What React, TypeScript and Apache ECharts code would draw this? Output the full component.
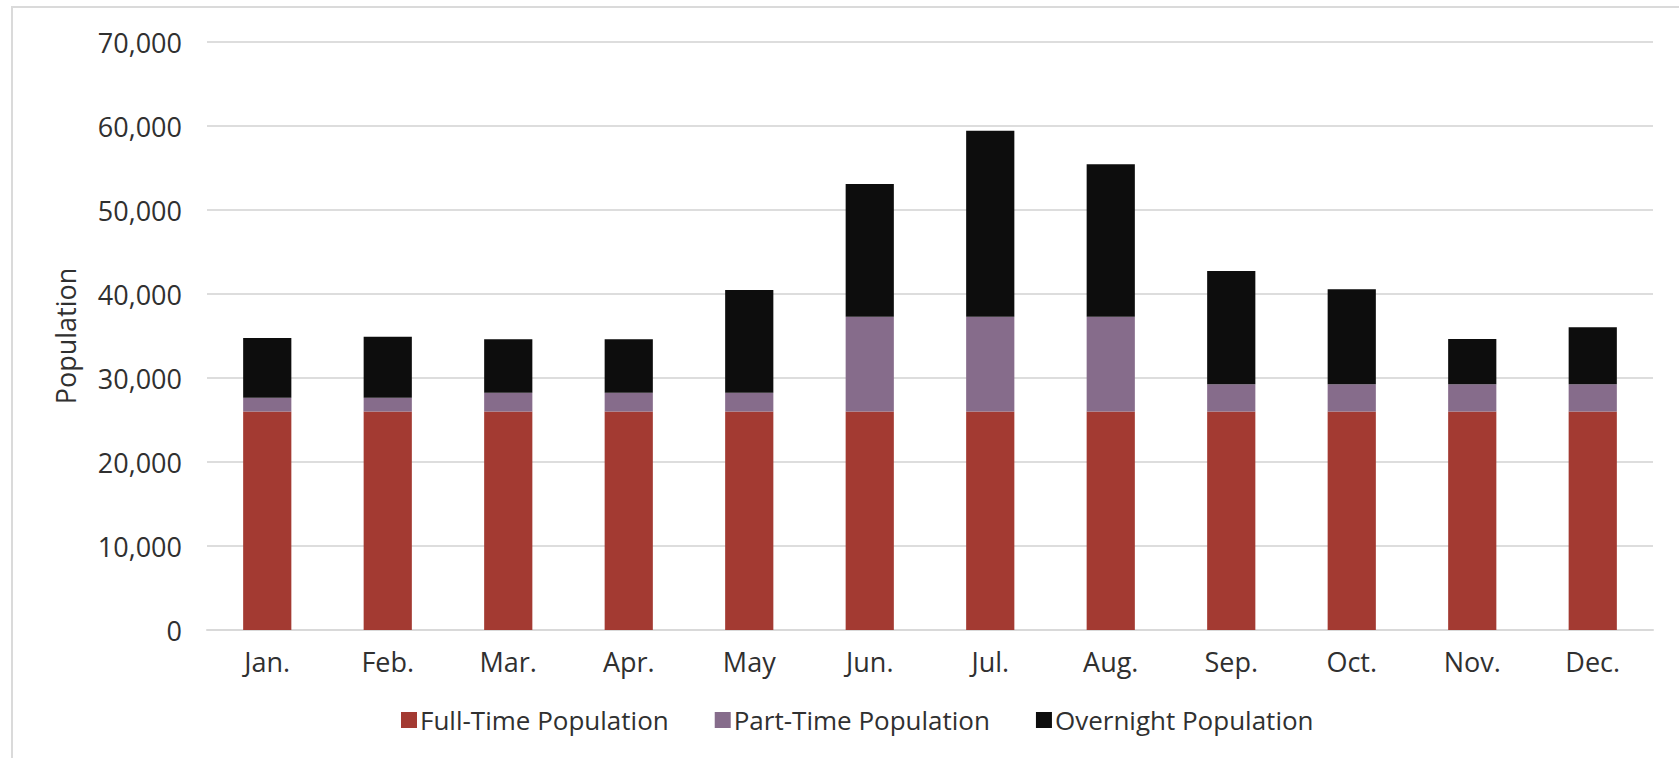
import React, { useEffect, useRef } from "react";
import * as echarts from "echarts";

const months = ["Jan.", "Feb.", "Mar.", "Apr.", "May", "Jun.", "Jul.", "Aug.", "Sep.", "Oct.", "Nov.", "Dec."];
const fullTime = [26000, 26000, 26000, 26000, 26000, 26000, 26000, 26000, 26000, 26000, 26000, 26000];
const partTime = [1650, 1650, 2250, 2250, 2250, 11300, 11300, 11300, 3250, 3250, 3250, 3250];
const overnight = [7110, 7270, 6350, 6350, 12230, 15800, 22140, 18140, 13500, 11310, 5390, 6780];
const seriesNames = ["Full-Time Population", "Part-Time Population", "Overnight Population"];
const seriesColors = ["#A33A32", "#866C8B", "#0D0D0D"];

const FONT = "'Open Sans', sans-serif";
const TEXT = "#303030";

export default function App() {
  const ref = useRef<HTMLDivElement>(null);
  useEffect(() => {
    document.body.style.margin = "0";
    document.body.style.overflow = "hidden";
    if (!ref.current) return;
    const chart = echarts.init(ref.current, undefined, { renderer: "svg" });
    const datas = [fullTime, partTime, overnight];
    chart.setOption({
      animation: false,
      backgroundColor: "#ffffff",
      textStyle: { fontFamily: FONT },
      graphic: [
        {
          type: "rect",
          shape: { x: 12, y: 7, width: 1800, height: 900 },
          style: { fill: "none", stroke: "#DADADA", lineWidth: 2 },
          silent: true,
        },
      ],
      grid: { left: 207, right: 26, top: 42, bottom: 128, containLabel: false },
      legend: {
        data: seriesNames,
        left: 396,
        top: 702,
        icon: "rect",
        itemWidth: 16,
        itemHeight: 16,
        itemGap: 46,
        textStyle: { fontFamily: FONT, fontSize: 26, color: TEXT, fontWeight: 500, padding: [0, 0, 0, -2] },
      },
      xAxis: {
        type: "category",
        data: months,
        axisLine: { show: true, lineStyle: { color: "#D9D9D9", width: 2 } },
        axisTick: { show: false },
        axisLabel: { fontFamily: FONT, fontSize: 27, color: TEXT, margin: 18, fontWeight: 500 },
      },
      yAxis: {
        type: "value",
        min: 0,
        max: 70000,
        interval: 10000,
        name: "Population",
        nameLocation: "middle",
        nameRotate: 90,
        nameGap: 128,
        nameTextStyle: { fontFamily: FONT, fontSize: 27, color: TEXT, fontWeight: 500 },
        axisLine: { show: false },
        axisTick: { show: false },
        splitLine: { lineStyle: { color: "#DDDDDD", width: 2 } },
        axisLabel: {
          fontFamily: FONT,
          fontSize: 27,
          color: TEXT,
          margin: 25,
          fontWeight: 500,
          formatter: (v: number) => v.toLocaleString("en-US"),
        },
      },
      series: seriesNames.map((name, i) => ({
        name,
        type: "bar",
        stack: "total",
        barWidth: "40%",
        data: datas[i],
        itemStyle: { color: seriesColors[i] },
      })),
    });
    return () => chart.dispose();
  }, []);
  return <div ref={ref} style={{ width: 1679, height: 758 }} />;
}
